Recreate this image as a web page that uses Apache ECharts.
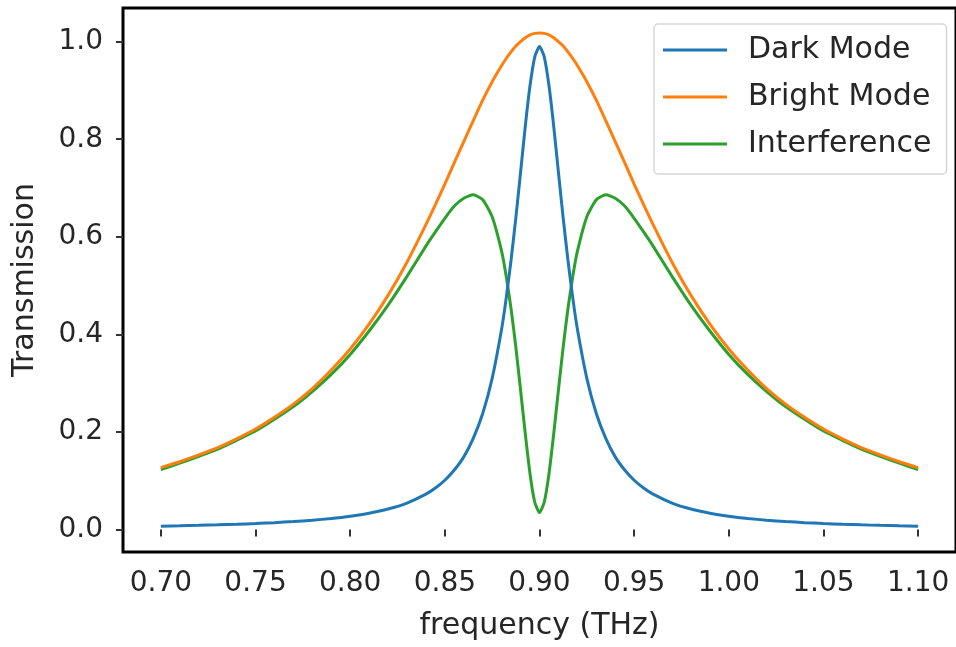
<!DOCTYPE html>
<html>
<head>
<meta charset="utf-8">
<script src="https://cdn.jsdelivr.net/npm/echarts@6/dist/echarts.min.js"></script>
<style>
  html, body { margin: 0; padding: 0; background: #fff; }
  #chart { width: 956px; height: 647px; }
</style>
</head>
<body>
<div id="chart"></div>
<script>
// frequency samples (THz), denser around the resonance
var freq = [0.70, 0.71, 0.72, 0.73, 0.74, 0.75, 0.76, 0.77, 0.78, 0.79, 0.80, 0.81, 0.82, 0.83, 0.84,
            0.845, 0.85, 0.855, 0.86, 0.865, 0.87, 0.875, 0.88,
            0.8825, 0.885, 0.8875, 0.89, 0.8925, 0.895, 0.8975, 0.90,
            0.9025, 0.905, 0.9075, 0.91, 0.9125, 0.915, 0.9175,
            0.92, 0.925, 0.93, 0.935, 0.94, 0.945, 0.95, 0.955,
            0.96, 0.97, 0.98, 0.99, 1.00, 1.01, 1.02, 1.03, 1.04, 1.05, 1.06, 1.07, 1.08, 1.09, 1.10];

var darkMode = [0.0070, 0.0077, 0.0086, 0.0096, 0.0109, 0.0124, 0.0142, 0.0164, 0.0192, 0.0227, 0.0274, 0.0336, 0.0421, 0.0543, 0.0725,
                0.0851, 0.101, 0.122, 0.149, 0.187, 0.238, 0.310, 0.411,
                0.477, 0.553, 0.639, 0.732, 0.827, 0.910, 0.969, 0.990,
                0.969, 0.910, 0.827, 0.732, 0.639, 0.553, 0.477,
                0.411, 0.310, 0.238, 0.187, 0.149, 0.122, 0.101, 0.0851,
                0.0725, 0.0543, 0.0421, 0.0336, 0.0274, 0.0227, 0.0192, 0.0164, 0.0142, 0.0124, 0.0109, 0.0096, 0.0086, 0.0077, 0.0070];

var brightMode = [0.127, 0.139, 0.153, 0.168, 0.186, 0.206, 0.230, 0.257, 0.289, 0.327, 0.370, 0.421, 0.480, 0.548, 0.625,
                  0.666, 0.708, 0.752, 0.795, 0.838, 0.880, 0.918, 0.951,
                  0.966, 0.979, 0.991, 1.000, 1.008, 1.014, 1.017, 1.018,
                  1.017, 1.014, 1.008, 1.000, 0.991, 0.979, 0.966,
                  0.951, 0.918, 0.880, 0.838, 0.795, 0.752, 0.708, 0.666,
                  0.625, 0.548, 0.480, 0.421, 0.370, 0.327, 0.289, 0.257, 0.230, 0.206, 0.186, 0.168, 0.153, 0.139, 0.127];

var interference = [0.123, 0.136, 0.150, 0.165, 0.183, 0.202, 0.226, 0.252, 0.283, 0.318, 0.359, 0.407, 0.460, 0.519, 0.581,
                    0.610, 0.638, 0.663, 0.679, 0.686, 0.676, 0.641, 0.570,
                    0.517, 0.452, 0.374, 0.286, 0.196, 0.114, 0.056, 0.035,
                    0.056, 0.114, 0.196, 0.286, 0.374, 0.452, 0.517,
                    0.570, 0.641, 0.676, 0.686, 0.679, 0.663, 0.638, 0.610,
                    0.581, 0.519, 0.460, 0.407, 0.359, 0.318, 0.283, 0.252, 0.226, 0.202, 0.183, 0.165, 0.150, 0.136, 0.123];

var xTicks = [0.70, 0.75, 0.80, 0.85, 0.90, 0.95, 1.00, 1.05, 1.10];
var yTicks = [0.0, 0.2, 0.4, 0.6, 0.8, 1.0];

var nameList = ['Dark Mode', 'Bright Mode', 'Interference'];
var color = ['#1f77b4', '#ff7f0e', '#2ca02c'];
var seriesData = [darkMode, brightMode, interference];

var font = 'DejaVu Sans';
var textColor = '#262626';

var seriesArr = [];
seriesData.forEach(function (vals, i) {
    seriesArr.push({
        name: nameList[i],
        type: 'line',
        data: freq.map(function (f, k) { return [f, vals[k]]; }),
        showSymbol: false,
        symbol: 'none',
        smooth: 0.2,
        color: color[i],
        lineStyle: { width: 3, color: color[i] },
        z: 3 - i
    });
});

var option = {
    animation: false,
    backgroundColor: '#fff',
    grid: {
        left: 123,
        right: -5,
        top: 8,
        bottom: 95,
        show: true,
        borderColor: '#000',
        borderWidth: 3,
        backgroundColor: 'transparent'
    },
    legend: {
        data: nameList,
        orient: 'vertical',
        left: 654,
        top: 24,
        padding: [9, 15, 13, 9],
        icon: 'rect',
        itemWidth: 64,
        itemHeight: 3,
        itemGap: 13,
        borderColor: '#d6d6d6',
        borderWidth: 1.5,
        borderRadius: 4,
        backgroundColor: 'rgba(255,255,255,0.8)',
        textStyle: {
            fontFamily: font,
            fontSize: 30,
            lineHeight: 34,
            color: textColor,
            padding: [0, 0, 0, 16]
        }
    },
    xAxis: {
        type: 'value',
        min: 0.68,
        max: 1.12,
        name: 'frequency (THz)',
        nameLocation: 'middle',
        nameGap: 59,
        nameTextStyle: { fontFamily: font, fontSize: 30, color: textColor },
        axisLine: { show: false },
        axisTick: {
            show: true,
            length: 7,
            lineStyle: { color: '#333', width: 2 },
            customValues: xTicks
        },
        axisLabel: {
            fontFamily: font,
            fontSize: 28,
            color: textColor,
            margin: 18,
            customValues: xTicks,
            formatter: function (v) { return v.toFixed(2); }
        },
        splitLine: { show: false }
    },
    yAxis: {
        type: 'value',
        min: -0.046,
        max: 1.069,
        name: 'Transmission',
        nameLocation: 'middle',
        nameGap: 83,
        nameTextStyle: { fontFamily: font, fontSize: 30, color: textColor },
        axisLine: { show: false },
        axisTick: {
            show: true,
            length: 7,
            lineStyle: { color: '#333', width: 2 },
            customValues: yTicks
        },
        axisLabel: {
            fontFamily: font,
            fontSize: 28,
            color: textColor,
            margin: 20,
            customValues: yTicks,
            formatter: function (v) { return v.toFixed(1); }
        },
        splitLine: { show: false }
    },
    series: seriesArr
};

var myChart = echarts.init(document.getElementById('chart'));
myChart.setOption(option);
</script>
</body>
</html>
